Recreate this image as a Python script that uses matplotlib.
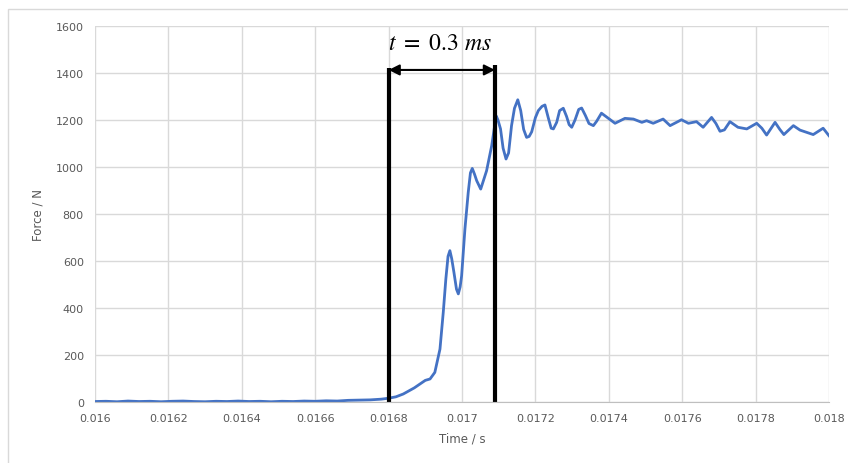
import matplotlib.pyplot as plt
from matplotlib.patches import Rectangle

# Force signal (time in s, force in N)
tiempo = [0.01600, 0.01603, 0.01606, 0.01609, 0.01612, 0.01615, 0.01618, 0.01621,
          0.01624, 0.01627, 0.01630, 0.01633, 0.01636, 0.01639, 0.01642, 0.01645,
          0.01648, 0.01651, 0.01654, 0.01657, 0.01660, 0.01663, 0.01666, 0.01669,
          0.01672, 0.01675, 0.01678, 0.01680, 0.01682, 0.01684, 0.01687, 0.01690,
          0.016913, 0.016926, 0.01694, 0.016949, 0.016956, 0.016962, 0.016967,
          0.016972, 0.016978, 0.016985, 0.01699, 0.016995, 0.016999, 0.017008,
          0.017017, 0.017023, 0.017028, 0.017034, 0.01704, 0.017051, 0.017067,
          0.017081, 0.017093, 0.017098, 0.017105, 0.017112, 0.01712, 0.017127,
          0.017135, 0.017143, 0.017152, 0.01716, 0.017168, 0.017176, 0.017183,
          0.01719, 0.0172, 0.017208, 0.017218, 0.017226, 0.017235, 0.017243,
          0.017249, 0.017258, 0.017266, 0.017276, 0.017285, 0.017292, 0.017299,
          0.017308, 0.017318, 0.017326, 0.017336, 0.017346, 0.017358, 0.017367,
          0.01738, 0.017399, 0.017417, 0.017444, 0.017467, 0.01749, 0.017503,
          0.017521, 0.017548, 0.017567, 0.017598, 0.017617, 0.017639, 0.017657,
          0.01768, 0.017692, 0.017703, 0.017715, 0.01773, 0.017752, 0.017776,
          0.017803, 0.017817, 0.01783, 0.017853, 0.017866, 0.017877, 0.017903,
          0.017921, 0.017957, 0.017984, 0.01800]
fuerza = [2, 3, 1, 4, 2, 3, 1, 3, 4, 2, 1, 3, 2, 4, 2, 3,
          1, 3, 2, 4, 3, 5, 4, 7,
          8, 9, 12, 16, 22, 34, 60, 92,
          98, 126, 225, 382, 523, 620, 644,
          610, 552, 480, 460, 490, 537, 736,
          892, 975, 994, 970, 942, 906, 984,
          1091, 1218, 1200, 1162, 1080, 1034, 1060,
          1176, 1250, 1286, 1240, 1160, 1126, 1130,
          1150, 1210, 1240, 1258, 1264, 1210, 1165,
          1162, 1190, 1240, 1250, 1215, 1180, 1169,
          1200, 1245, 1251, 1220, 1185, 1176, 1195,
          1229, 1207, 1186, 1207, 1204, 1190, 1197,
          1186, 1204, 1176, 1201, 1186, 1193, 1169,
          1211, 1185, 1152, 1158, 1193, 1169, 1162,
          1186, 1165, 1136, 1190, 1160, 1138, 1176,
          1157, 1138, 1165, 1133]

t_inicio = 0.0168
t_fin = 0.01709
etiqueta = r'$t\ =\ 0.3\ ms$'

fig = plt.figure(figsize=(8.48, 4.64), dpi=100)
ax = fig.add_axes([0.112, 0.1315, 0.8656, 0.8103])

# light frame around the chart area
fig.patches.append(Rectangle((8 / 848, -0.1), 1.2, 1 - 10 / 464 + 0.1,
                             transform=fig.transFigure, fill=False,
                             edgecolor='#d9d9d9', linewidth=1))

ax.plot(tiempo, fuerza, color='#4472C4', linewidth=2)

ax.set_xlim(0.016, 0.018)
ax.set_ylim(0, 1600)
ax.set_xticks([0.016 + 0.0002 * i for i in range(11)])
ax.set_xticklabels(['0.016', '0.0162', '0.0164', '0.0166', '0.0168', '0.017',
                    '0.0172', '0.0174', '0.0176', '0.0178', '0.018'])
ax.set_yticks(range(0, 1601, 200))
ax.grid(True, color='#d9d9d9', linewidth=1)
ax.set_axisbelow(True)
for lado in ['top', 'right', 'left']:
    ax.spines[lado].set_visible(False)
ax.spines['bottom'].set_color('#bfbfbf')
ax.tick_params(length=0, colors='#595959', labelsize=8, pad=8)
ax.set_xlabel('Time / s', color='#595959', fontsize=8.5, labelpad=6)
ax.set_ylabel('Force / N', color='#595959', fontsize=8.5, labelpad=8)

# annotation of the rise time
ax.plot([t_inicio, t_inicio], [0, 1420], color='black', linewidth=3, solid_capstyle='butt')
ax.plot([t_fin, t_fin], [0, 1435], color='black', linewidth=3, solid_capstyle='butt')
ax.annotate('', xy=(t_fin, 1413), xytext=(t_inicio, 1413),
            arrowprops=dict(arrowstyle='<|-|>', color='black', lw=1.5,
                            mutation_scale=16, shrinkA=0, shrinkB=0))
plt.rcParams['mathtext.fontset'] = 'stix'
ax.text((t_inicio + t_fin) / 2 - 0.000005, 1530, etiqueta, ha='center', va='center',
        fontsize=17, color='black')

fig.savefig('out.png', dpi=100)
